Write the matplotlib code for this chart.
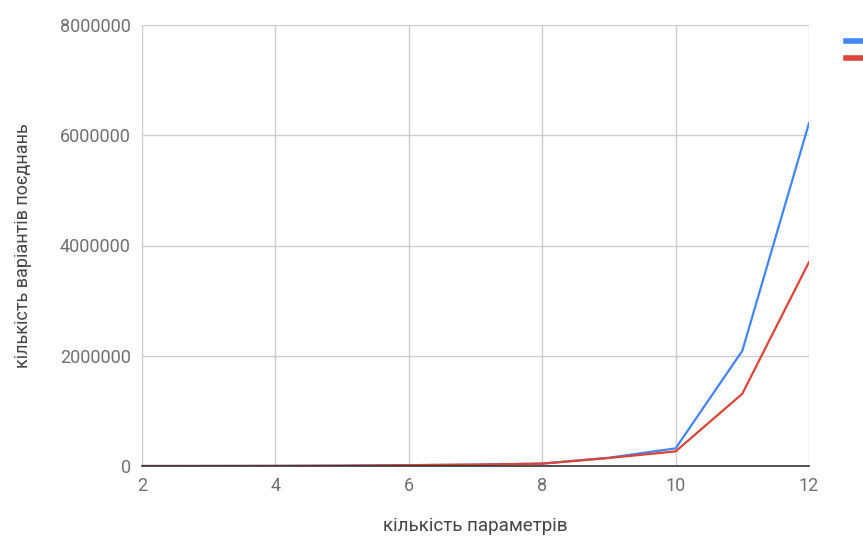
import matplotlib
matplotlib.use("Agg")
import matplotlib.pyplot as plt
from matplotlib.lines import Line2D

plt.rcParams['font.family'] = ['Roboto', 'DejaVu Sans']

x_params = [2, 3, 4, 5, 6, 7, 8, 9, 10, 11, 12]
series_blue = [0, 500, 2000, 6000, 15000, 25000, 45000, 150000, 320000, 2090000, 6220000]
series_red = [0, 500, 2000, 6000, 15000, 25000, 42000, 145000, 265000, 1310000, 3700000]
y_ticks = [0, 2000000, 4000000, 6000000, 8000000]
x_ticks = [2, 4, 6, 8, 10, 12]
x_label = "кількість параметрів"
y_label = "кількість варіантів поєднань"

fig = plt.figure(figsize=(8.63, 5.41), dpi=100)
ax = fig.add_axes([142/863, 1-466/541, (809-142)/863, (466-25)/541])

ax.plot(x_params, series_blue, color='#4285F4', lw=1.6, zorder=3, solid_joinstyle='round')
ax.plot(x_params, series_red, color='#DB4437', lw=1.6, zorder=4, solid_joinstyle='round')

ax.set_xlim(2, 12)
ax.set_ylim(0, 8000000)
ax.set_xticks(x_ticks)
ax.set_yticks(y_ticks)
ax.set_yticklabels([str(v) for v in y_ticks])
ax.grid(True, color='#cccccc', lw=1)
ax.set_axisbelow(True)
for s in ['top', 'right', 'left']:
    ax.spines[s].set_visible(False)
ax.spines['bottom'].set_color('#333333')
ax.spines['bottom'].set_linewidth(1.2)
ax.spines['bottom'].set_zorder(5)
ax.tick_params(axis='both', length=0, labelsize=13, colors='#707070')
ax.tick_params(axis='x', pad=8)
ax.tick_params(axis='y', pad=8)
ax.set_xlabel(x_label, fontsize=13.5, color='#444444', labelpad=16)
ax.set_ylabel(y_label, fontsize=13, color='#444444', labelpad=20)

handles = [Line2D([], [], color='#4285F4', lw=4), Line2D([], [], color='#DB4437', lw=4)]
fig.legend(handles, ['', ''], loc='upper left', bbox_to_anchor=(838/863, 1-28/541),
           frameon=False, handlelength=1.6, borderpad=0, labelspacing=0.2, fontsize=11,
           handletextpad=0.3)

fig.savefig('out.png', dpi=100)
